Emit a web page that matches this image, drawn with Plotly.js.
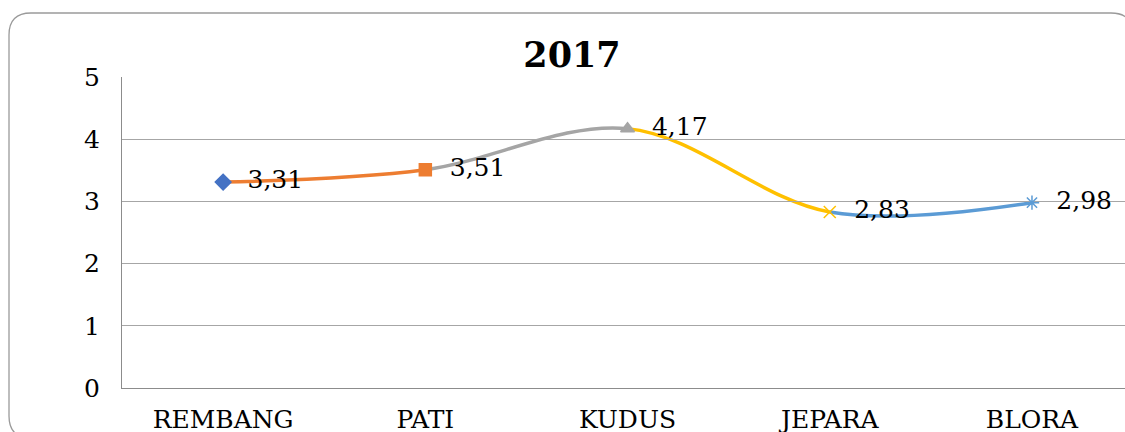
<!DOCTYPE html>
<html>
<head>
<meta charset="utf-8">
<script src="https://cdn.plot.ly/plotly-3.0.1.min.js"></script>
<style>
html,body{margin:0;padding:0;background:#fff;}
#chart{width:1125px;height:432px;}
</style>
</head>
<body>
<div id="chart"></div>
<script>
const categories = ['REMBANG', 'PATI', 'KUDUS', 'JEPARA', 'BLORA'];
const values = [3.31, 3.51, 4.17, 2.83, 2.98];
const segmentColors = ['#ED7D31', '#A5A5A5', '#FFC000', '#5B9BD5'];
const markerColors = ['#4472C4', '#ED7D31', '#A5A5A5', '#FFC000', '#5B9BD5'];
const markerSymbols = ['diamond', 'square', 'triangle-up', 'x-thin-open', 'asterisk-open'];
const yTickValues = [0, 1, 2, 3, 4, 5];
const chartTitle = '2017';

const W = 1125, H = 432;
const M = {l: 122, r: 0, t: 77, b: 44};
const xRange = [-0.5, 4.46];
const span = xRange[1] - xRange[0];
const FONT = 'DejaVu Serif, Liberation Serif, serif';

const traces = [];
const layout = {
  width: W, height: H,
  margin: M,
  paper_bgcolor: '#fff', plot_bgcolor: 'rgba(0,0,0,0)',
  showlegend: false,
  separators: ',.',
  font: {family: FONT, size: 25, color: '#000'},
  title: {
    text: '<b>' + chartTitle + '</b>',
    font: {family: FONT, size: 35, color: '#000'},
    x: 572 / W, xref: 'container', xanchor: 'center',
    y: 1 - 55 / H, yref: 'container', yanchor: 'middle'
  },
  yaxis: {
    range: [0, 5], tickvals: yTickValues, anchor: 'x5',
    showgrid: true, gridcolor: '#A6A6A6', gridwidth: 1,
    zeroline: false,
    showline: true, linecolor: '#8C8C8C', linewidth: 1,
    ticks: '', ticklabelstandoff: 16,
    tickfont: {family: FONT, size: 25, color: '#000'},
    fixedrange: true
  },
  shapes: []
};

const axisName = i => (i === 0 ? 'xaxis' : 'xaxis' + (i + 1));
const axisRef = i => (i === 0 ? 'x' : 'x' + (i + 1));

// one clipped subplot per segment, each drawing the full smooth curve
segmentColors.forEach((c, k) => {
  layout[axisName(k)] = {
    type: 'category', categoryarray: categories,
    range: [k, k + 1],
    domain: [(k - xRange[0]) / span, (k + 1 - xRange[0]) / span],
    anchor: 'y', visible: false, showgrid: false, zeroline: false, fixedrange: true
  };
  traces.push({
    type: 'scatter', mode: 'lines',
    x: categories, y: values,
    xaxis: axisRef(k), yaxis: 'y',
    line: {color: c, width: 3.5, shape: 'spline', smoothing: 1},
    hoverinfo: 'skip'
  });
});

// full-width category axis carrying markers + labels (drawn last, on top)
layout.xaxis5 = {
  type: 'category', categoryarray: categories, range: xRange,
  domain: [0, 1], anchor: 'y',
  showgrid: false, zeroline: false,
  showline: true, linecolor: '#8C8C8C', linewidth: 1,
  ticks: '', ticklabelstandoff: 9,
  tickfont: {family: FONT, size: 25, color: '#000'},
  fixedrange: true
};
traces.push({
  type: 'scatter', mode: 'markers+text',
  x: categories, y: values,
  xaxis: 'x5', yaxis: 'y',
  cliponaxis: false,
  marker: {
    symbol: markerSymbols, color: markerColors, size: 12,
    line: {color: markerColors, width: 1.5}
  },
  texttemplate: '\u00a0\u00a0%{y:.2f}',
  textposition: 'middle right',
  textfont: {family: FONT, size: 25, color: '#000'},
  hoverinfo: 'skip'
});

// rounded chart-area border (pixel -> paper conversion)
const pw = W - M.l - M.r, ph = H - M.t - M.b;
const px = v => (v - M.l) / pw;
const py = v => (H - M.b - v) / ph;
const bx0 = 9, bx1 = 1133, by0 = 13, by1 = 438, r = 22;
const path = [
  'M', px(bx0), py(by1 - r),
  'L', px(bx0), py(by0 + r),
  'Q', px(bx0), py(by0), px(bx0 + r), py(by0),
  'L', px(bx1 - r), py(by0),
  'Q', px(bx1), py(by0), px(bx1), py(by0 + r),
  'L', px(bx1), py(by1 - r),
  'Q', px(bx1), py(by1), px(bx1 - r), py(by1),
  'L', px(bx0 + r), py(by1),
  'Q', px(bx0), py(by1), px(bx0), py(by1 - r), 'Z'
];
let d = '';
for (let i = 0; i < path.length; i++) {
  const t = path[i];
  if (typeof t === 'string') d += t + ' ';
  else d += t.toFixed(5) + (typeof path[i + 1] === 'number' ? ',' : ' ');
}
layout.shapes.push({
  type: 'path', xref: 'paper', yref: 'paper', path: d.trim(),
  line: {color: '#9A9A9A', width: 1.3}, fillcolor: 'rgba(0,0,0,0)', layer: 'above'
});

Plotly.newPlot('chart', traces, layout, {displayModeBar: false, staticPlot: true});
</script>
</body>
</html>
